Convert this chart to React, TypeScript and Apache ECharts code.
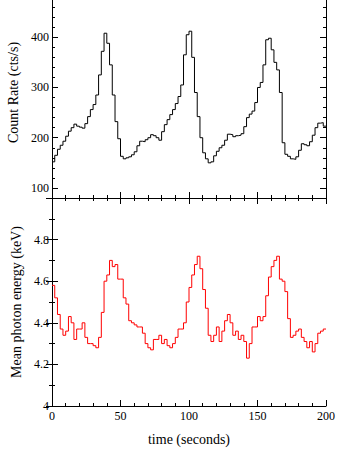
import React, { useEffect, useRef } from "react";
import * as echarts from "echarts";

// Bin width in seconds; each value below is one 2-second bin starting at t = index * BIN
const BIN = 2;
const T_END = 200;

const countRate = [
  152, 165, 177, 185, 193, 203, 213, 220, 227, 223,
  221, 219, 228, 242, 256, 266, 285, 325, 372, 408,
  388, 345, 285, 232, 198, 163, 158, 160, 162, 166,
  172, 184, 193, 192, 196, 200, 206, 204, 200, 195,
  212, 226, 236, 246, 256, 268, 282, 305, 365, 405,
  412, 360, 290, 242, 200, 170, 158, 150, 152, 164,
  173, 180, 185, 195, 207, 206, 202, 204, 205, 208,
  222, 240, 247, 253, 270, 300, 310, 345, 395, 398,
  375, 350, 335, 290, 190, 167, 163, 158, 157, 162,
  175, 188, 186, 184, 192, 205, 220, 229, 230, 223,
];

const energy = [
  4.58, 4.52, 4.44, 4.37, 4.34, 4.36, 4.43, 4.4, 4.32, 4.37,
  4.37, 4.4, 4.33, 4.3, 4.3, 4.29, 4.28, 4.33, 4.45, 4.6,
  4.63, 4.7, 4.67, 4.68, 4.61, 4.61, 4.52, 4.49, 4.41, 4.4,
  4.39, 4.38, 4.38, 4.35, 4.3, 4.28, 4.27, 4.32, 4.32, 4.34,
  4.3, 4.32, 4.29, 4.28, 4.3, 4.33, 4.37, 4.37, 4.4, 4.5,
  4.57, 4.63, 4.68, 4.72, 4.66, 4.56, 4.47, 4.34, 4.31, 4.34,
  4.38, 4.31, 4.36, 4.41, 4.44, 4.4, 4.34, 4.36, 4.32, 4.34,
  4.31, 4.23, 4.3, 4.38, 4.38, 4.43, 4.41, 4.43, 4.53, 4.62,
  4.67, 4.7, 4.72, 4.61, 4.6, 4.55, 4.42, 4.33, 4.34, 4.36,
  4.37, 4.33, 4.31, 4.28, 4.31, 4.26, 4.3, 4.35, 4.36, 4.37,
];

const rateLabels = [100, 200, 300, 400];
const rateMinorTicks = [80, 120, 140, 160, 180, 220, 240, 260, 280, 320, 340, 360, 380, 420, 440, 460, 480];

const FONT = "Liberation Serif";

function toSteps(values: number[]) {
  const pts = values.map((v, i) => [i * BIN, v]);
  pts.push([T_END, values[values.length - 1]]);
  return pts;
}

export default function App() {
  const ref = useRef<HTMLDivElement>(null);
  useEffect(() => {
    if (!ref.current) return;
    const chart = echarts.init(ref.current, null, { renderer: "svg" });
    const axisLine = { show: true, lineStyle: { color: "#000", width: 1 } };
    const labelStyle = { color: "#000", fontFamily: FONT, fontSize: 12 };
    const nameStyle = { color: "#000", fontFamily: FONT, fontSize: 14 };

    const rateAxis = (position: string, major: boolean, labels: boolean) => ({
      type: "value",
      gridIndex: 0,
      position,
      min: 80,
      max: 500,
      axisLine: major ? axisLine : { show: false },
      splitLine: { show: false },
      axisTick: {
        show: true,
        inside: true,
        length: major ? 6 : 3,
        customValues: major ? rateLabels : rateMinorTicks,
        lineStyle: { color: "#000", width: 1 },
      },
      axisLabel: labels
        ? { show: true, customValues: rateLabels, margin: 3, ...labelStyle }
        : { show: false },
      name: labels ? "Count Rate (cts/s)" : "",
      nameLocation: "middle",
      nameGap: 27,
      nameTextStyle: nameStyle,
    });

    const energyAxis = (position: string, labels: boolean) => ({
      type: "value",
      gridIndex: 1,
      position,
      min: 4,
      max: 5,
      interval: 0.2,
      axisLine,
      splitLine: { show: false },
      axisTick: { show: true, inside: true, length: 6, lineStyle: { color: "#000" } },
      minorTick: { show: true, splitNumber: 2, length: 3, lineStyle: { color: "#000" } },
      minorSplitLine: { show: false },
      axisLabel: labels
        ? {
            show: true,
            margin: 3,
            showMaxLabel: false,
            formatter: (v: number) => String(+v.toFixed(1)),
            ...labelStyle,
          }
        : { show: false },
      name: labels ? "Mean photon energy (keV)" : "",
      nameLocation: "middle",
      nameGap: 27,
      nameTextStyle: nameStyle,
    });

    const timeAxis = (gridIndex: number, position: string, labels: boolean) => ({
      type: "value",
      gridIndex,
      position,
      min: 0,
      max: 200,
      interval: 50,
      axisLine,
      splitLine: { show: false },
      axisTick: { show: true, inside: true, length: 6, lineStyle: { color: "#000" } },
      minorTick: { show: true, splitNumber: 5, length: 3, lineStyle: { color: "#000" } },
      minorSplitLine: { show: false },
      axisLabel: labels ? { show: true, margin: 4, ...labelStyle } : { show: false },
      name: labels ? "time (seconds)" : "",
      nameLocation: "middle",
      nameGap: 26,
      nameTextStyle: nameStyle,
    });

    chart.setOption({
      animation: false,
      backgroundColor: "#fff",
      grid: [
        { left: 52, right: 28, top: -13, bottom: 260, outerBoundsMode: "none", containLabel: false },
        { left: 52, right: 28, top: 198, bottom: 52, outerBoundsMode: "none", containLabel: false },
      ],
      xAxis: [
        timeAxis(0, "bottom", false),
        timeAxis(1, "bottom", true),
        timeAxis(1, "top", false),
      ],
      yAxis: [
        rateAxis("left", true, true),
        rateAxis("left", false, false),
        rateAxis("right", true, false),
        rateAxis("right", false, false),
        energyAxis("left", true),
        energyAxis("right", false),
      ],
      series: [
        {
          type: "line",
          xAxisIndex: 0,
          yAxisIndex: 0,
          step: "end",
          symbol: "none",
          lineStyle: { color: "#000", width: 1 },
          data: toSteps(countRate),
        },
        {
          type: "line",
          xAxisIndex: 1,
          yAxisIndex: 4,
          step: "end",
          symbol: "none",
          lineStyle: { color: "#ff0000", width: 1 },
          data: toSteps(energy),
        },
      ],
    });
    return () => chart.dispose();
  }, []);
  return (
    <div
      ref={ref}
      style={{ position: "fixed", left: 0, top: 0, width: 354, height: 458, background: "#fff" }}
    />
  );
}
